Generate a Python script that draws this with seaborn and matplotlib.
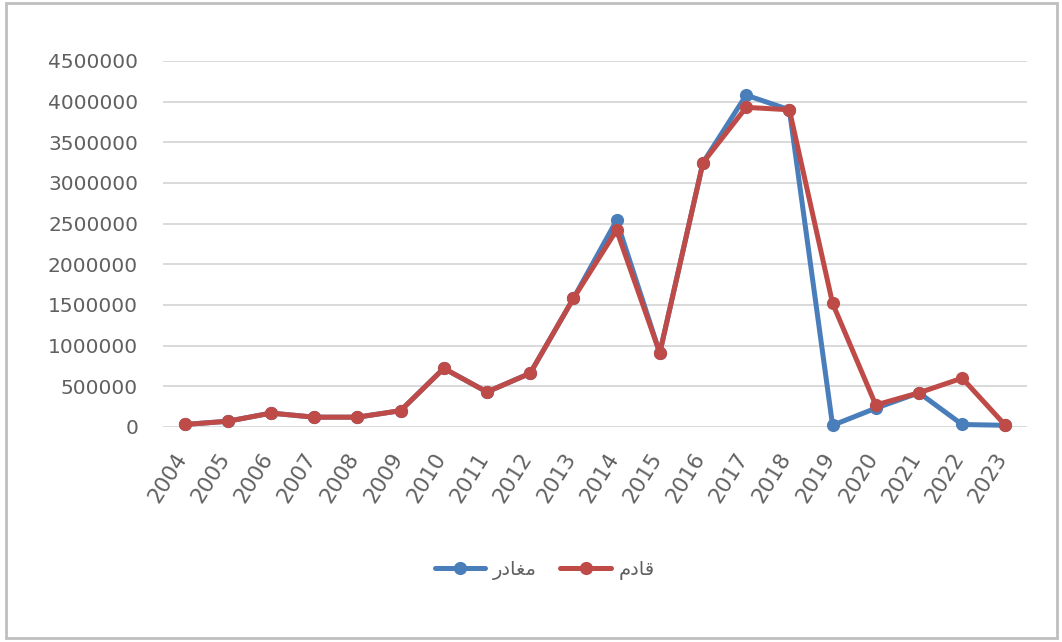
import pandas as pd
import numpy as np
import matplotlib.pyplot as plt
from matplotlib.patches import Rectangle
from matplotlib.transforms import ScaledTranslation
import seaborn as sns

# Years on the x axis
years = ['2004', '2005', '2006', '2007', '2008', '2009', '2010', '2011', '2012', '2013',
         '2014', '2015', '2016', '2017', '2018', '2019', '2020', '2021', '2022', '2023']

# Departures (blue) and arrivals (red)
departures = [30000, 70000, 170000, 120000, 120000, 200000, 720000, 430000, 660000, 1580000,
              2540000, 910000, 3250000, 4080000, 3900000, 20000, 230000, 420000, 30000, 20000]
arrivals = [30000, 70000, 170000, 120000, 120000, 200000, 720000, 430000, 660000, 1580000,
            2420000, 910000, 3250000, 3930000, 3900000, 1520000, 270000, 420000, 600000, 20000]

# Series names (Arabic, written in shaped presentation forms so matplotlib draws them joined)
label_dep = "\uFEAD\uFEA9\uFE8E\uFED0\uFEE3"   # مغادر
label_arr = "\uFEE1\uFEA9\uFE8E\uFED7"         # قادم

yticks = [0, 500000, 1000000, 1500000, 2000000, 2500000, 3000000, 3500000, 4000000, 4500000]

sns.set_theme(style="whitegrid")
plt.rcParams["font.family"] = ["DejaVu Sans"]

palette = {label_dep: "#4A7EBB", label_arr: "#BE4B48"}

df = pd.DataFrame({
    "idx": list(range(len(years))) * 2,
    "value": departures + arrivals,
    "series": [label_dep] * len(years) + [label_arr] * len(years),
})

fig = plt.figure(figsize=(10.62, 6.42), dpi=100)
ax = fig.add_axes([0.1535, 0.335, 0.8135, 0.57])

sns.lineplot(data=df, x="idx", y="value", hue="series", hue_order=[label_dep, label_arr],
             palette=palette, marker="o", markersize=9.5, markeredgewidth=0,
             linewidth=3.6, sort=False, clip_on=False, ax=ax)

ax.set_xlim(-0.5, len(years) - 0.5)
ax.set_ylim(0, 4500000)
ax.set_yticks(yticks)
ax.set_yticklabels([str(v) for v in yticks])
ax.set_xticks(range(len(years)))
ax.set_xticklabels(years, rotation=58, ha="right", rotation_mode="anchor")
ax.tick_params(axis="y", labelsize=14.5, colors="#606060", pad=18, length=0)
ax.tick_params(axis="x", labelsize=15.5, colors="#606060", pad=16, length=0)
# nudge the slanted year labels left so their ends sit under the points
for lab in ax.get_xticklabels():
    lab.set_transform(lab.get_transform() + ScaledTranslation(-8 / 72, 0, fig.dpi_scale_trans))
ax.grid(axis="x", visible=False)
ax.grid(axis="y", color="#D9D9D9", linewidth=1.4)
ax.set_xlabel("")
ax.set_ylabel("")
sns.despine(ax=ax, left=True, bottom=True)
ax.set_facecolor("white")

leg = ax.legend(loc="center", bbox_to_anchor=(0.513, 0.112), bbox_transform=fig.transFigure,
                ncol=2, frameon=False, fontsize=14, handlelength=2.6, columnspacing=1.2,
                handletextpad=0.4)
for t in leg.get_texts():
    t.set_color("#606060")

# Outer chart border
fig.patches.append(Rectangle((0.006, 0.006), 0.989, 0.99, transform=fig.transFigure,
                             fill=False, edgecolor="#BFBFBF", linewidth=2))

fig.savefig("out.png", dpi=100)
